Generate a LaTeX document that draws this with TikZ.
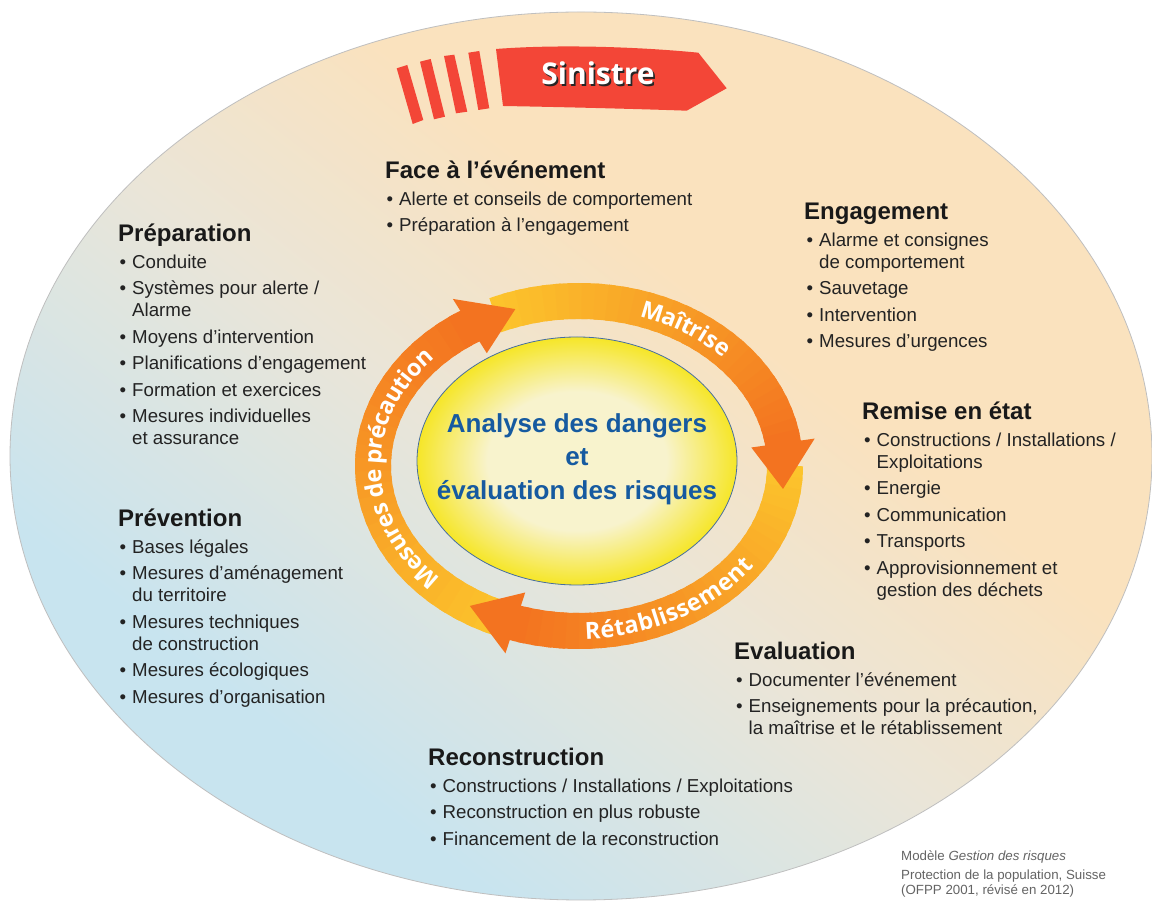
\documentclass[tikz,border=0pt]{standalone}
\usepackage{fontspec}
\setmainfont{Liberation Sans}
\newfontfamily\ringfont{Open Sans}
\usetikzlibrary{calc,decorations.text}

\definecolor{bgpeach}{RGB}{250,226,190}
\definecolor{bgmid}{RGB}{234,229,216}
\definecolor{bgblue}{RGB}{200,228,239}
\definecolor{sinred}{RGB}{243,70,55}
\definecolor{ringyellow}{RGB}{252,196,44}
\definecolor{ringorange}{RGB}{243,115,32}
\definecolor{sunpale}{RGB}{248,243,205}
\definecolor{sunyellow}{RGB}{246,230,40}
\definecolor{sunrim}{RGB}{70,110,160}
\definecolor{riskblue}{RGB}{22,90,160}
\definecolor{bodytext}{RGB}{35,35,35}
\definecolor{creditgray}{RGB}{100,100,100}

\pgfdeclarehorizontalshading{skyshade}{100bp}{color(0bp)=(bgblue); color(30bp)=(bgblue); color(47bp)=(bgmid); color(60bp)=(bgpeach); color(100bp)=(bgpeach)}
\pgfdeclareradialshading{sunshade}{\pgfpoint{0bp}{0bp}}{color(0bp)=(sunpale); color(14bp)=(sunpale); color(25bp)=(sunyellow); color(50bp)=(sunyellow)}

\newcommand{\bul}{\makebox[12.5pt][l]{•}}
\newcommand{\ind}{\makebox[12.5pt]{}}
\newcommand{\ringlabel}{\ringfont\bfseries\fontsize{23.5}{23.5}\selectfont}

%% mid line of the cycle ring
\def\rx{206}
\def\ry{165}

\newcommand{\ringshaft}[2]{%
  \foreach \k in {0,...,29}{%
    \pgfmathsetmacro{\tfrom}{#1+(#2-#1)*\k/30}%
    \pgfmathsetmacro{\tto}{#1+(#2-#1)*(\k+1.5)/30}%
    \pgfmathsetmacro{\shademix}{100-100*\k/29}%
    \draw[ringline, ringyellow!\shademix!ringorange] ($(ring)+({\rx*cos(\tfrom)},{\ry*sin(\tfrom)})$) arc[start angle=\tfrom, end angle=\tto, x radius=\rx, y radius=\ry];
  }}
\newcommand{\ringhead}[2]{%
  \fill[ringorange] ($(ring)+({(\rx+32)*cos(#1)},{(\ry+32)*sin(#1)})$) -- ($(ring)+({\rx*cos(#2)},{\ry*sin(#2)})$) -- ($(ring)+({(\rx-32)*cos(#1)},{(\ry-32)*sin(#1)})$) -- cycle;}

\tikzset{
  ringline/.style={line width=36pt},
  head/.style={font=\bfseries\fontsize{24}{28}\selectfont, anchor=base west, inner sep=0pt, text=black!90},
  items/.style={font=\fontsize{18.7}{22}\selectfont, align=left, anchor=north west, inner sep=0pt, text=bodytext},
  risktext/.style={font=\bfseries\fontsize{26}{33.5}\selectfont, text=riskblue, align=center},
  credit/.style={font=\fontsize{13.3}{15}\selectfont, align=left, anchor=north west, inner sep=0pt, text=creditgray}
}

\begin{document}
\begin{tikzpicture}[x=1pt,y=1pt]
  \useasboundingbox (0,0) rectangle (1152,905);
  \fill[white] (0,0) rectangle (1152,905);
  %% background
  \shade[shading=skyshade, shading angle=52] (581,449) ellipse [x radius=571, y radius=444];
  \draw[black!25, line width=0.8pt] (581,449) ellipse [x radius=571, y radius=444];

  %% Sinistre
  \fill[sinred] (396.7,836.7) -- (407.3,840) -- (423.3,785) -- (412.7,781) -- cycle;
  \fill[sinred] (420,843.3) -- (430.7,846) -- (445,788.3) -- (434,785.7) -- cycle;
  \fill[sinred] (444,849) -- (454.3,850.3) -- (467.3,793.3) -- (456,791.7) -- cycle;
  \fill[sinred] (468.3,852.3) -- (479.3,854) -- (489.3,796.7) -- (478.3,795) -- cycle;
  \fill[sinred] (496,856) .. controls (560,861) and (640,858) .. (698.3,852.3) -- (726.7,816.7)
    -- (686.7,794.3) .. controls (640,796) and (560,798) .. (503,799) -- cycle;
  \node[font=\ringfont\bfseries\fontsize{30}{30}\selectfont, text=black!85] at (599.8,830.2) {Sinistre};
  \node[font=\ringfont\bfseries\fontsize{30}{30}\selectfont, text=white] (sinistre) at (598,832) {Sinistre};

  %% cycle
  \coordinate (ring) at (579,439);
  \ringshaft{250}{122}
  \ringshaft{114}{8}
  \ringshaft{0}{-108}
  \ringhead{122}{108}
  \ringhead{8}{-8}
  \ringhead{-108}{-122}
  \path[decorate, decoration={text along path, text={|\ringlabel|Maîtrise}, text color=white, text align=center, raise=-8pt}]
    ($(ring)+({\rx*cos(97)},{\ry*sin(97)})$) arc[start angle=97, end angle=15, x radius=\rx, y radius=\ry];
  \path[decorate, decoration={text along path, text={|\ringlabel|Mesures de précaution}, text color=white, text align=center, raise=-8pt}]
    ($(ring)+({\rx*cos(272)},{\ry*sin(272)})$) arc[start angle=272, end angle=90, x radius=\rx, y radius=\ry];
  \path[decorate, decoration={text along path, text={|\ringlabel|Rétablissement}, text color=white, text align=center, raise=-8pt}]
    ($(ring)+({\rx*cos(245)},{\ry*sin(245)})$) arc[start angle=245, end angle=357, x radius=\rx, y radius=\ry];

  %% centre
  \shade[shading=sunshade] (577,444) ellipse [x radius=160, y radius=124];
  \draw[sunrim, line width=0.8pt] (577,444) ellipse [x radius=160, y radius=124];
  \node[risktext] (analyse) at (577,446) {Analyse des dangers\\et\\évaluation des risques};

  %% phases
  \node[head] (face) at (385,726.5) {Face à l’événement};
  \node[items] (faceL) at ([shift={(1.5,-11.1)}]face.base west)
    {\strut\bul Alerte et conseils de comportement\\[4.5pt]\bul Préparation à l’engagement};

  \node[head] (engage) at (804,685.5) {Engagement};
  \node[items] (engageL) at ([shift={(2.5,-11.1)}]engage.base west)
    {\strut\bul Alarme et consignes\\\ind de comportement\\[4.5pt]\bul Sauvetage\\[4.5pt]\bul Intervention\\[4.5pt]\bul Mesures d’urgences};

  \node[head] (prep) at (118,663.5) {Préparation};
  \node[items] (prepL) at ([shift={(1.5,-11.1)}]prep.base west)
    {\strut\bul Conduite\\[4.5pt]\bul Systèmes pour alerte /\\\ind Alarme\\[4.5pt]\bul Moyens d’intervention\\[4.5pt]\bul Planifications d’engagement\\[4.5pt]\bul Formation et exercices\\[4.5pt]\bul Mesures individuelles\\\ind et assurance};

  \node[head] (remise) at (862,485.5) {Remise en état};
  \node[items] (remiseL) at ([shift={(2,-11.1)}]remise.base west)
    {\strut\bul Constructions / Installations /\\\ind Exploitations\\[4.5pt]\bul Energie\\[4.5pt]\bul Communication\\[4.5pt]\bul Transports\\[4.5pt]\bul Approvisionnement et\\\ind gestion des déchets};

  \node[head] (prev) at (118,378.5) {Prévention};
  \node[items] (prevL) at ([shift={(1.5,-11.1)}]prev.base west)
    {\strut\bul Bases légales\\[4.5pt]\bul Mesures d’aménagement\\\ind du territoire\\[4.5pt]\bul Mesures techniques\\\ind de construction\\[4.5pt]\bul Mesures écologiques\\[4.5pt]\bul Mesures d’organisation};

  \node[head] (eval) at (734,245.5) {Evaluation};
  \node[items] (evalL) at ([shift={(2,-11.1)}]eval.base west)
    {\strut\bul Documenter l’événement\\[4.5pt]\bul Enseignements pour la précaution,\\\ind la maîtrise et le rétablissement};

  \node[head] (recon) at (428,139.5) {Reconstruction};
  \node[items] (reconL) at ([shift={(2,-11.1)}]recon.base west)
    {\strut\bul Constructions / Installations / Exploitations\\[4.5pt]\bul Reconstruction en plus robuste\\[4.5pt]\bul Financement de la reconstruction};

  %% source
  \node[credit] (source) at (901,55.5)
    {\strut Modèle \textit{Gestion des risques}\\[4pt]Protection de la population, Suisse\\(OFPP 2001, révisé en 2012)};
\end{tikzpicture}
\end{document}
